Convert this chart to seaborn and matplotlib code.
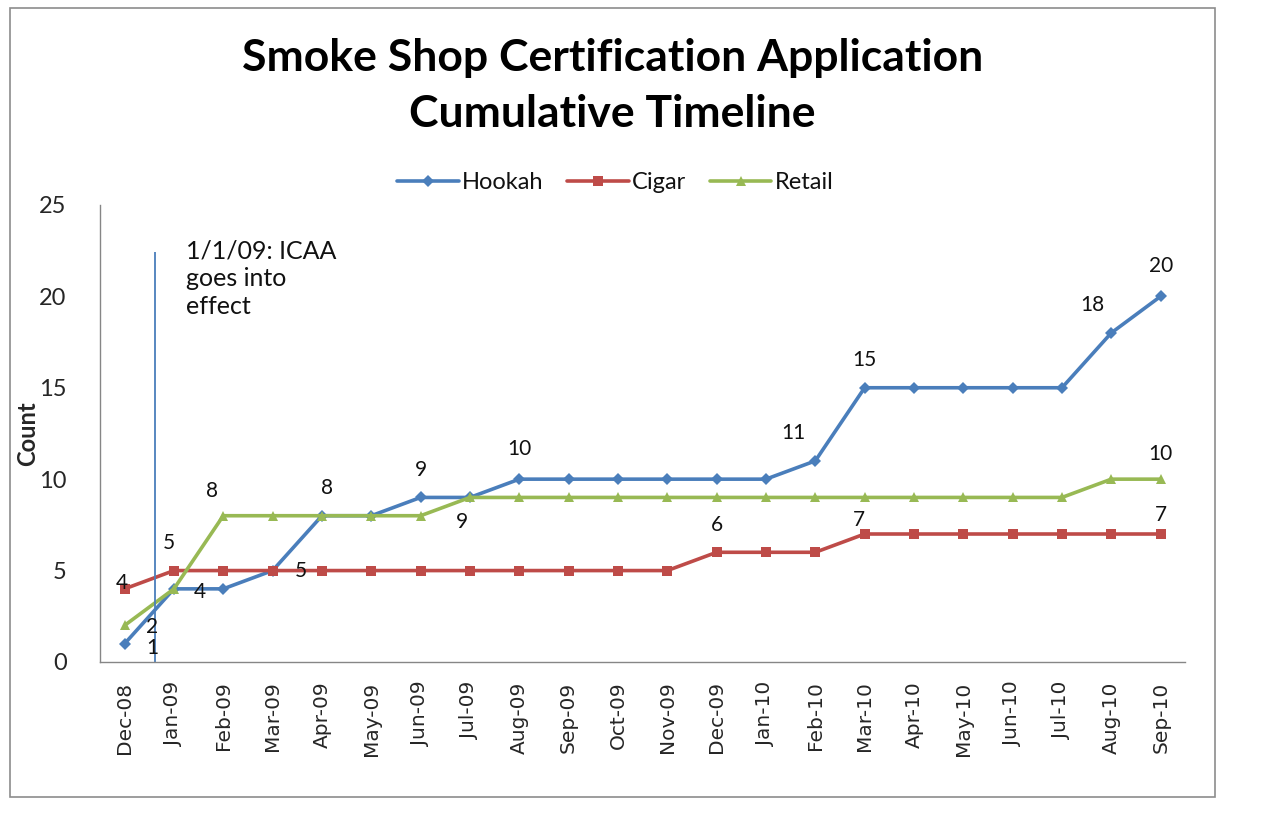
import pandas as pd
import numpy as np
import matplotlib.pyplot as plt
import seaborn as sns
from matplotlib.patches import Rectangle

# data
months = ['Dec-08', 'Jan-09', 'Feb-09', 'Mar-09', 'Apr-09', 'May-09', 'Jun-09', 'Jul-09',
          'Aug-09', 'Sep-09', 'Oct-09', 'Nov-09', 'Dec-09', 'Jan-10', 'Feb-10', 'Mar-10',
          'Apr-10', 'May-10', 'Jun-10', 'Jul-10', 'Aug-10', 'Sep-10']
hookah = [1, 4, 4, 5, 8, 8, 9, 9, 10, 10, 10, 10, 10, 10, 11, 15, 15, 15, 15, 15, 18, 20]
cigar = [4, 5, 5, 5, 5, 5, 5, 5, 5, 5, 5, 5, 6, 6, 6, 7, 7, 7, 7, 7, 7, 7]
retail = [2, 4, 8, 8, 8, 8, 8, 9, 9, 9, 9, 9, 9, 9, 9, 9, 9, 9, 9, 9, 10, 10]

series = {'Hookah': hookah, 'Cigar': cigar, 'Retail': retail}
colors = {'Hookah': '#4A7EBB', 'Cigar': '#BE4B48', 'Retail': '#98B954'}
markers = {'Hookah': 'D', 'Cigar': 's', 'Retail': '^'}

# which points carry a value label, and the offset (points) of each label
labels = [('Hookah', 0, 20, -3), ('Hookah', 1, 19, -2), ('Hookah', 3, 20, 0),
          ('Hookah', 4, 4, 20), ('Hookah', 6, 0, 20), ('Hookah', 8, 0, 22),
          ('Hookah', 14, -16, 20), ('Hookah', 15, 0, 20), ('Hookah', 20, -14, 20),
          ('Hookah', 21, 0, 22),
          ('Cigar', 0, -2, 4), ('Cigar', 1, -4, 20), ('Cigar', 12, 0, 20),
          ('Cigar', 15, -4, 10), ('Cigar', 21, 0, 14),
          ('Retail', 0, 20, -1), ('Retail', 2, -8, 18), ('Retail', 7, -6, -18),
          ('Retail', 21, 0, 18)]

df = pd.DataFrame({
    'idx': np.tile(np.arange(len(months)), len(series)),
    'count': np.concatenate([series[k] for k in series]),
    'type': np.repeat(list(series.keys()), len(months)),
})

sns.set_style('white')
plt.rcParams['font.family'] = ['Lato', 'DejaVu Sans']
plt.rcParams['text.color'] = '#111111'

fig = plt.figure(figsize=(12.65, 8.25), dpi=100)
ax = fig.add_axes([0.079, 0.1976, 0.858, 0.554])

sns.lineplot(data=df, x='idx', y='count', hue='type', style='type',
             palette=colors, markers=markers, dashes=False, linewidth=2.6,
             markersize=6.5, markeredgewidth=0, ax=ax, legend=True)

for name, i, dx, dy in labels:
    ax.annotate(str(series[name][i]), (i, series[name][i]), xytext=(dx, dy),
                textcoords='offset points', ha='center', va='center', fontsize=15)

# ICAA start marker
ax.vlines(0.61, 0, 22.4, color='#4A7EBB', linewidth=1.3)
ax.text(1.25, 23.1, '1/1/09: ICAA\ngoes into\neffect', fontsize=18, va='top',
        ha='left', linespacing=1.25)

ax.set_xlim(-0.5, len(months) - 0.5)
ax.set_ylim(0, 25)
ax.set_yticks([0, 5, 10, 15, 20, 25])
ax.set_xticks(np.arange(len(months)))
ax.set_xticklabels(months, rotation=90, fontsize=14.5, family='DejaVu Sans')
ax.tick_params(axis='y', labelsize=17, pad=24, length=0)
ax.tick_params(axis='x', pad=14, length=0)
ax.set_xlabel('')
ax.set_ylabel('Count', fontsize=17, fontweight='bold')
ax.yaxis.set_label_coords(-0.056, 0.5)
for s in ['top', 'right']:
    ax.spines[s].set_visible(False)
for s in ['left', 'bottom']:
    ax.spines[s].set_color('#868686')
    ax.spines[s].set_linewidth(1)

leg = ax.legend(loc='center', bbox_to_anchor=(0.475, 1.048), ncol=3, frameon=False,
                fontsize=17, handlelength=2.6, columnspacing=1.0, handletextpad=0.15,
                borderpad=0)
leg.set_title(None)

fig.text(0.484, 0.93, 'Smoke Shop Certification Application', ha='center', va='center',
         fontsize=32, fontweight='bold', color='black')
fig.text(0.484, 0.862, 'Cumulative Timeline', ha='center', va='center',
         fontsize=32, fontweight='bold', color='black')

fig.patches.append(Rectangle((10 / 1265, 1 - 797 / 825), 1205 / 1265, 789 / 825,
                             transform=fig.transFigure, fill=False,
                             edgecolor='#8c8c8c', linewidth=1.2))

fig.savefig('out.png', dpi=100)
